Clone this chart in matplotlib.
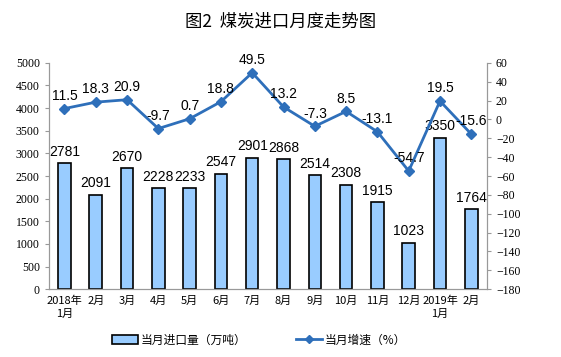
import matplotlib
matplotlib.use('Agg')
import matplotlib.pyplot as plt
import numpy as np
from matplotlib.lines import Line2D
from matplotlib.patches import Patch

plt.rcParams['font.family'] = ['Noto Sans CJK SC', 'DejaVu Sans']

months = ['2018年\n1月', '2月', '3月', '4月', '5月', '6月', '7月', '8月', '9月',
          '10月', '11月', '12月', '2019年\n1月', '2月']
imports = [2781, 2091, 2670, 2228, 2233, 2547, 2901, 2868, 2514, 2308, 1915, 1023, 3350, 1764]
growth = [11.5, 18.3, 20.9, -9.7, 0.7, 18.8, 49.5, 13.2, -7.3, 8.5, -13.1, -54.7, 19.5, -15.6]

fig = plt.figure(figsize=(5.61, 3.57), dpi=100)
ax = fig.add_axes([0.087, 0.19, 0.781, 0.634])
x = np.arange(len(months))

ax.bar(x, imports, width=0.4, color='#99CCFF', edgecolor='black', linewidth=1.2, zorder=2)
for i, v in enumerate(imports):
    ax.text(i, v + 100, str(v), ha='center', va='bottom', fontsize=10, family='Liberation Sans')

ax.set_ylim(0, 5000)
ax.set_yticks(range(0, 5001, 500))
ax.set_xlim(-0.5, len(months) - 0.5)
ax.set_xticks(x)
ax.set_xticklabels(months, fontsize=8, linespacing=1.3)
ax.tick_params(axis='x', length=0, pad=5)
ax.tick_params(axis='y', labelsize=8.5, length=3, color='#999999')
for lab in ax.get_yticklabels():
    lab.set_family('Liberation Serif')
for s in ['top']:
    ax.spines[s].set_visible(False)
for s in ['left', 'bottom', 'right']:
    ax.spines[s].set_color('#999999')

ax2 = ax.twinx()
ax2.plot(x, growth, color='#2E6FBA', linewidth=2, marker='D', markersize=5, zorder=3)
for i, v in enumerate(growth):
    ax2.text(i, v + 6, str(v), ha='center', va='bottom', fontsize=10, family='Liberation Sans')
ax2.set_ylim(-180, 60)
ax2.set_yticks(range(-180, 61, 20))
ax2.tick_params(axis='y', labelsize=8.5, length=3, color='#999999')
for lab in ax2.get_yticklabels():
    lab.set_family('Liberation Serif')
ax2.spines['top'].set_visible(False)
for s in ['left', 'bottom', 'right']:
    ax2.spines[s].set_color('#999999')

fig.text(0.5, 0.938, '图2  煤炭进口月度走势图', ha='center', va='center', fontsize=12.5)

handles = [Patch(facecolor='#99CCFF', edgecolor='black', linewidth=1.2),
           Line2D([0], [0], color='#2E6FBA', linewidth=2, marker='D', markersize=4)]
fig.legend(handles, ['当月进口量（万吨）', '当月增速（%）'], loc='center', bbox_to_anchor=(0.462, 0.048),
           ncol=2, frameon=False, fontsize=8.5, columnspacing=4.2, handlelength=2.2, handleheight=0.8,
           handletextpad=0.2)

fig.savefig('out.png', dpi=100)
